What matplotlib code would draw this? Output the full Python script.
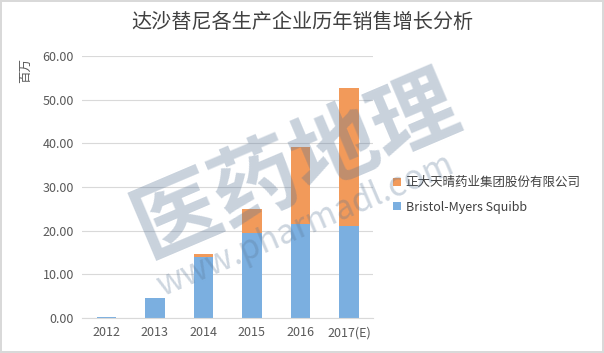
import matplotlib.pyplot as plt
import numpy as np

plt.rcParams['font.family'] = ['Noto Sans CJK SC', 'DejaVu Sans']

years = ['2012', '2013', '2014', '2015', '2016', '2017(E)']
bms = [0.3, 4.7, 14.0, 19.5, 21.5, 21.1]
chiatai = [0.0, 0.0, 0.6, 5.5, 17.6, 31.7]
series_names = ['正大天晴药业集团股份有限公司', 'Bristol-Myers Squibb']

blue = '#7BAFE0'
orange = '#F29A5A'

fig = plt.figure(figsize=(6.04, 3.53), dpi=100)
fig.patch.set_edgecolor('#D9D9D9')
fig.patch.set_linewidth(1.5)
ax = fig.add_axes([0.136, 0.099, 0.482, 0.742])

x = np.arange(len(years))
b1 = ax.bar(x, bms, width=0.4, color=blue, zorder=2)
b2 = ax.bar(x, chiatai, width=0.4, bottom=bms, color=orange, zorder=2)

ax.set_xlim(-0.5, len(years) - 0.5)
ax.set_ylim(0, 60)
ax.set_yticks(np.arange(0, 61, 10))
ax.set_yticklabels([f'{v:.2f}' for v in np.arange(0, 61, 10)])
ax.set_xticks(x)
ax.set_xticklabels(years)
ax.grid(axis='y', color='#D9D9D9', linewidth=0.8, zorder=0)
for s in ['top', 'right', 'left']:
    ax.spines[s].set_visible(False)
ax.spines['bottom'].set_color('#D9D9D9')
ax.tick_params(length=0, labelsize=9, colors='#595959', pad=6)

fig.text(0.5, 0.935, '达沙替尼各生产企业历年销售增长分析', ha='center', va='center',
         fontsize=14.5, color='#404040')
fig.text(0.043, 0.80, '百万', rotation=90, ha='center', va='center',
         fontsize=9, color='#595959')

ax.legend([b2, b1], series_names, loc='center left', bbox_to_anchor=(1.03, 0.47),
          frameon=False, fontsize=9, handlelength=0.6, handleheight=0.6,
          handletextpad=0.4, labelspacing=0.9, labelcolor='#404040')

# watermark
fig.text(0.49, 0.53, '医药地理', rotation=23, ha='center', va='center', fontsize=62,
         fontweight='bold', color='#5A7696', alpha=0.33, zorder=10)
fig.text(0.505, 0.36, 'www.pharmadl.com', rotation=23, ha='center', va='center',
         fontsize=24, color='#5A7696', alpha=0.3, zorder=10)

fig.savefig('out.png', dpi=100)
